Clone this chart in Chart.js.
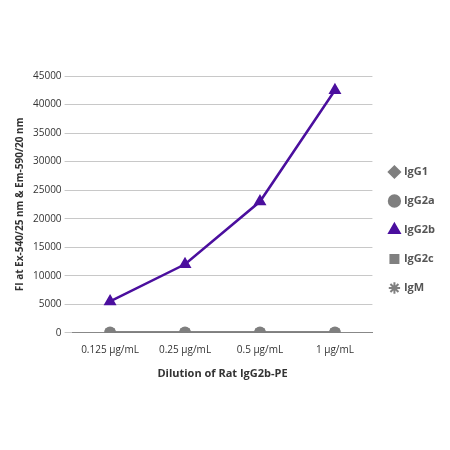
<!DOCTYPE html><html><head><script src="https://cdn.jsdelivr.net/npm/chart.js@4"></script>
<style>body{margin:0;background:#fff}#w{width:450px;height:450px}</style></head><body><div id="w"><canvas id="c"></canvas></div>
<script>
const categories=["0.125 µg/mL","0.25 µg/mL","0.5 µg/mL","1 µg/mL"];
const igg1=[50,50,50,50];
const igg2a=[50,50,50,50];
const igg2b=[5500,12000,23000,42500];
const igg2c=[50,50,50,50];
const igm=[50,50,50,50];
const F="'Open Sans', sans-serif";
new Chart(document.getElementById('c'),{type:'line',data:{labels:categories,datasets:[
{label:'IgG1',data:igg1,borderColor:'#7f7f7f',backgroundColor:'#7f7f7f',pointStyle:'rectRot',pointRadius:4,borderWidth:2},
{label:'IgG2a',data:igg2a,borderColor:'#7f7f7f',backgroundColor:'#7f7f7f',pointStyle:'circle',pointRadius:5,borderWidth:2},
{label:'IgG2b',data:igg2b,borderColor:'#4b0f9e',backgroundColor:'#4b0f9e',pointStyle:'triangle',pointRadius:5,borderWidth:2.5},
{label:'IgG2c',data:igg2c,borderColor:'#808080',backgroundColor:'#808080',pointStyle:'rect',pointRadius:5,borderWidth:2},
{label:'IgM',data:igm,borderColor:'#808080',backgroundColor:'#808080',pointStyle:'star',pointRadius:5,borderWidth:2}]},
options:{responsive:true,maintainAspectRatio:false,animation:false,
layout:{padding:{top:76,bottom:66,left:10,right:5}},
plugins:{legend:{position:'right',labels:{usePointStyle:true,boxWidth:8,boxHeight:8,padding:18,color:'#555',font:{family:F,size:11,weight:'bold'}}},tooltip:{enabled:false}},
scales:{x:{offset:true,grid:{display:false},border:{color:'#888'},ticks:{color:'#333',font:{family:F,size:10}},title:{display:true,text:'Dilution of Rat IgG2b-PE',color:'#333',font:{family:F,size:11,weight:'bold'},padding:{top:8}}},
y:{min:0,max:45000,ticks:{stepSize:5000,color:'#333',font:{family:F,size:10},callback:v=>String(v)},grid:{color:'#c8c8c8'},border:{display:false},title:{display:true,text:'FI at Ex-540/25 nm & Em-590/20 nm',color:'#333',font:{family:F,size:10,weight:'bold'}}}}}});
</script></body></html>
